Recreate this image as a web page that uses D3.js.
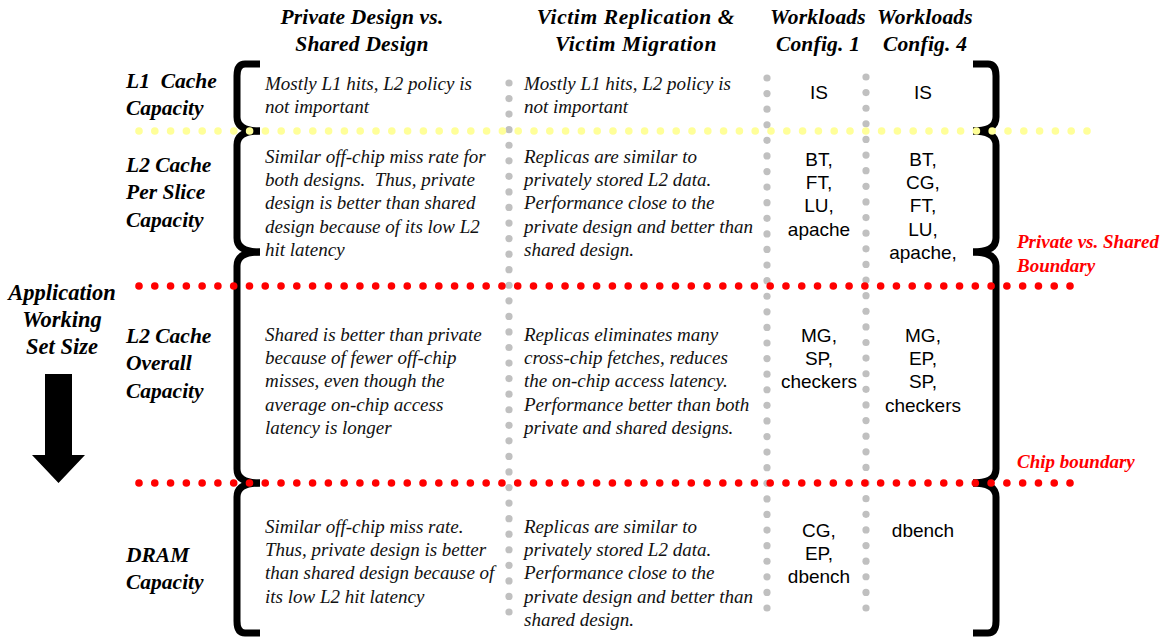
<!DOCTYPE html>
<html><head><meta charset="utf-8">
<script src="https://cdn.jsdelivr.net/npm/d3@7"></script>
<style>body{margin:0;background:#fff}svg{display:block}</style>
</head><body>
<script>
// ---- data ----
const columnHeaders = [
  ["Private Design vs.", "Shared Design"],
  ["Victim Replication &", "Victim Migration"],
  ["Workloads", "Config. 1"],
  ["Workloads", "Config. 4"]
];
const rowLabels = [
  ["L1  Cache", "Capacity"],
  ["L2 Cache", "Per Slice", "Capacity"],
  ["L2 Cache", "Overall", "Capacity"],
  ["DRAM", "Capacity"]
];
const privateVsShared = [
  ["Mostly L1 hits, L2 policy is", "not important"],
  ["Similar off-chip miss rate for", "both designs.  Thus, private", "design is better than shared", "design because of its low L2", "hit latency"],
  ["Shared is better than private", "because of fewer off-chip", "misses, even though the", "average on-chip access", "latency is longer"],
  ["Similar off-chip miss rate.", "Thus, private design is better", "than shared design because of", "its low L2 hit latency"]
];
const victimReplication = [
  ["Mostly L1 hits, L2 policy is", "not important"],
  ["Replicas are similar to", "privately stored L2 data.", "Performance close to the", "private design and better than", "shared design."],
  ["Replicas eliminates many", "cross-chip fetches, reduces", "the on-chip access latency.", "Performance better than both", "private and shared designs."],
  ["Replicas are similar to", "privately stored L2 data.", "Performance close to the", "private design and better than", "shared design."]
];
const workloadsConfig1 = [["IS"], ["BT,", "FT,", "LU,", "apache"], ["MG,", "SP,", "checkers"], ["CG,", "EP,", "dbench"]];
const workloadsConfig4 = [["IS"], ["BT,", "CG,", "FT,", "LU,", "apache,"], ["MG,", "EP,", "SP,", "checkers"], ["dbench"]];
const axisTitle = ["Application", "Working", "Set Size"];
const boundaries = [
  {name: "L1 boundary", label: [], color: "#ffff99"},
  {name: "Private vs. Shared", label: ["Private vs. Shared", "Boundary"], color: "#ff0000"},
  {name: "Chip", label: ["Chip boundary"], color: "#ff0000"}
];

// ---- layout ----
const W = 1166, H = 640;
const svg = d3.select("body").append("svg").attr("width", W).attr("height", H);
const serif = "'Liberation Serif','Times New Roman',serif";
const sans = "'Liberation Sans',Arial,sans-serif";

const segEdges = [62, 131, 252, 483, 635];
const boundaryY = [131, 286, 483];
const rowFirstBaseline = [90, 163, 341, 533];
const wlFirstBaseline = [99, 166, 342, 537];
const lh = 23.2;

// header
const headerX = [362, 636, 818, 925];
columnHeaders.forEach((lines, i) => {
  lines.forEach((t, j) => {
    svg.append("text").attr("x", headerX[i]).attr("y", 24 + j * 27)
      .attr("text-anchor", "middle").attr("font-family", serif)
      .attr("font-weight", "bold").attr("font-style", "italic").attr("font-size", 21.5)
      .style("letter-spacing", i === 1 ? "0.6px" : "0.2px")
      .text(t);
  });
});

// row labels
const rowLabelBaseline = [88, 172, 343, 562];
rowLabels.forEach((lines, i) => {
  lines.forEach((t, j) => {
    svg.append("text").attr("x", 126).attr("y", rowLabelBaseline[i] + j * 27.3)
      .attr("font-family", serif).attr("font-weight", "bold").attr("font-style", "italic")
      .attr("font-size", 21.5).style("white-space", "pre").text(t);
  });
});

// axis title + arrow
axisTitle.forEach((t, j) => {
  svg.append("text").attr("x", 62).attr("y", 300 + j * 27).attr("text-anchor", "middle")
    .attr("font-family", serif).attr("font-weight", "bold").attr("font-style", "italic")
    .attr("font-size", 22.5).text(t);
});
const arrowPath = d3.path();
arrowPath.moveTo(45, 374); arrowPath.lineTo(72, 374); arrowPath.lineTo(72, 455);
arrowPath.lineTo(85, 455); arrowPath.lineTo(58.5, 483); arrowPath.lineTo(32, 455);
arrowPath.lineTo(45, 455); arrowPath.closePath();
svg.append("path").attr("d", arrowPath.toString()).attr("fill", "#000");

// body text
function bodyText(data, x) {
  data.forEach((lines, i) => {
    lines.forEach((t, j) => {
      svg.append("text").attr("x", x).attr("y", rowFirstBaseline[i] + j * lh)
        .attr("font-family", serif).attr("font-style", "italic").attr("font-size", 19)
        .style("white-space", "pre").attr("fill", "#111").text(t);
    });
  });
}
bodyText(privateVsShared, 265);
bodyText(victimReplication, 524);

function wlText(data, x) {
  data.forEach((lines, i) => {
    lines.forEach((t, j) => {
      svg.append("text").attr("x", x).attr("y", wlFirstBaseline[i] + j * lh)
        .attr("text-anchor", "middle").attr("font-family", sans).attr("font-size", 19)
        .text(t);
    });
  });
}
wlText(workloadsConfig1, 819);
wlText(workloadsConfig4, 923);

// brackets
function bracketSeg(xv, hx, y0, y1, first, last) {
  const p = d3.path();
  const r = 14;
  const d = hx > xv ? 8 : -8;
  if (first) { p.moveTo(hx, y0 + 2); p.lineTo(xv + d, y0 + 2); p.quadraticCurveTo(xv, y0 + 2, xv, y0 + r); }
  else { p.moveTo(hx, y0); p.quadraticCurveTo(xv, y0, xv, y0 + r); }
  p.lineTo(xv, y1 - r);
  if (last) { p.quadraticCurveTo(xv, y1 - 2, xv + d, y1 - 2); p.lineTo(hx, y1 - 2); }
  else p.quadraticCurveTo(xv, y1, hx, y1);
  return p.toString();
}
const br = svg.append("g").attr("fill", "none").attr("stroke", "#000").attr("stroke-width", 7);
for (let i = 0; i < segEdges.length - 1; i++) {
  const first = i === 0, last = i === segEdges.length - 2;
  br.append("path").attr("d", bracketSeg(237, 260, segEdges[i], segEdges[i + 1], first, last));
  br.append("path").attr("d", bracketSeg(996, 973, segEdges[i], segEdges[i + 1], first, last));
}

// vertical gray dotted separators
const sepX = [509, 767, 866];
const sepTop = [83, 78, 77];
const sepBottom = [612, 608, 608];
sepX.forEach((x, i) => {
  const n = 34;
  const ys = d3.range(n + 1).map(k => sepTop[i] + k * (sepBottom[i] - sepTop[i]) / n);
  svg.append("g").selectAll("circle").data(ys).join("circle")
    .attr("cx", x).attr("cy", d => d).attr("r", 3.6).attr("fill", "#c0c0c0");
});

// horizontal boundary dotted lines
const bStart = [139, 139, 139], bEnd = [1087, 1070, 1070];
boundaries.forEach((b, i) => {
  const n = Math.round((bEnd[i] - bStart[i]) / 15.8);
  const xs = d3.range(n + 1).map(k => bStart[i] + k * (bEnd[i] - bStart[i]) / n);
  svg.append("g").selectAll("circle").data(xs).join("circle")
    .attr("cx", d => d).attr("cy", boundaryY[i]).attr("r", 3.8).attr("fill", b.color);
});

// boundary labels
const labelBase = [0, 248, 468];
boundaries.forEach((b, i) => {
  b.label.forEach((t, j) => {
    svg.append("text").attr("x", 1017).attr("y", labelBase[i] + j * 24)
      .attr("font-family", serif).attr("font-weight", "bold").attr("font-style", "italic")
      .attr("font-size", 19).attr("fill", "#ff0000").text(t);
  });
});
</script>
</body></html>
